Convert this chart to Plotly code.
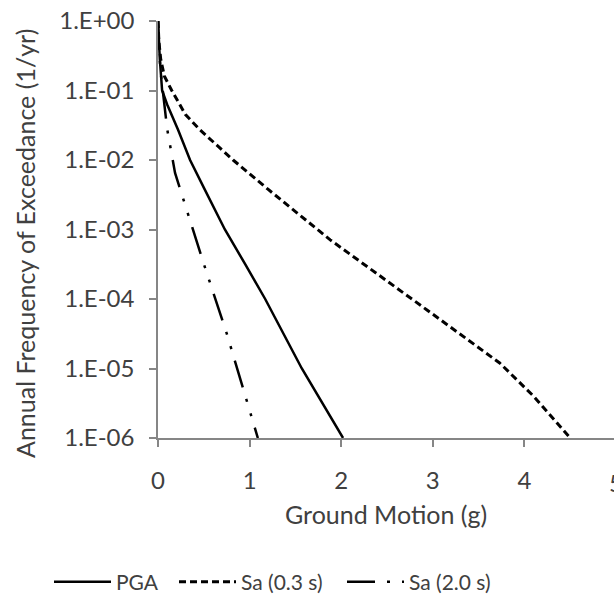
import plotly.graph_objects as go

# Ground motion (g) and annual frequency of exceedance (1/yr)
pga_x = [0, 0.01, 0.02, 0.045, 0.1, 0.22, 0.35, 0.5, 0.73, 0.95, 1.17, 1.57, 2.02]
pga_y = [1.0, 0.45, 0.28, 0.10, 0.063, 0.027, 0.010, 0.004, 0.001, 3.2e-4, 1.0e-4, 1.0e-5, 1.0e-6]

sa03_x = [0, 0.01, 0.03, 0.07, 0.15, 0.3, 0.46, 0.82, 1.2, 1.88, 2.94, 3.73, 4.1, 4.5]
sa03_y = [1.0, 0.50, 0.28, 0.16, 0.10, 0.045, 0.027, 0.010, 0.0038, 7.1e-4, 6.9e-5, 1.2e-5, 4.0e-6, 1.0e-6]

sa20_x = [0, 0.01, 0.03, 0.05, 0.1, 0.186, 0.5, 0.75, 1.09]
sa20_y = [1.0, 0.40, 0.18, 0.10, 0.028, 0.0065, 3.2e-4, 3.2e-5, 1.0e-6]

series_names = ["PGA", "Sa (0.3 s)", "Sa (2.0 s)"]

y_tickvals = [1, 1e-1, 1e-2, 1e-3, 1e-4, 1e-5, 1e-6]
y_ticktext = ["1.E+00", "1.E-01", "1.E-02", "1.E-03", "1.E-04", "1.E-05", "1.E-06"]
x_tickvals = [0, 1, 2, 3, 4]

FONT = "Lato"
TXT = "#404040"
AX = "#868686"
PLOT_W = 456.0
X_MAX = 4.978

fig = go.Figure()
fig.add_trace(go.Scatter(x=pga_x, y=pga_y, mode="lines", name=series_names[0],
                         legend="legend",
                         line=dict(color="black", width=2.5)))
fig.add_trace(go.Scatter(x=sa03_x, y=sa03_y, mode="lines", name=series_names[1],
                         legend="legend2",
                         line=dict(color="black", width=3, dash="7px,4px")))
fig.add_trace(go.Scatter(x=sa20_x, y=sa20_y, mode="lines", name=series_names[2],
                         legend="legend3",
                         line=dict(color="black", width=2.5,
                                   dash="28px,12px,3px,12px,3px,12px")))


def leg(xpx):
    return dict(orientation="h", x=xpx / 614.0, xanchor="left", xref="container",
                y=0.025, yanchor="middle", yref="container",
                font=dict(size=21, color=TXT), itemwidth=57,
                bgcolor="rgba(0,0,0,0)")


fig.update_layout(
    width=614, height=597,
    margin=dict(l=158, r=0, t=21, b=159),
    paper_bgcolor="white", plot_bgcolor="white",
    font=dict(family=FONT, size=24, color=TXT),
    showlegend=True,
    legend=leg(49), legend2=leg(174), legend3=leg(342),
    xaxis=dict(range=[0, X_MAX], tickvals=x_tickvals, showgrid=False, zeroline=False,
               showline=True, linecolor=AX, linewidth=1.5,
               ticks="outside", ticklen=7, tickcolor=AX, tickwidth=1.5,
               ticklabelstandoff=13, tickfont=dict(size=24, color=TXT)),
    yaxis=dict(type="log", range=[-6, 0], tickvals=y_tickvals, ticktext=y_ticktext,
               showgrid=False, zeroline=False,
               showline=True, linecolor=AX, linewidth=1.5,
               ticks="outside", ticklen=7, tickcolor=AX, tickwidth=1.5,
               ticklabelstandoff=10, tickfont=dict(size=24, color=TXT)),
    annotations=[
        dict(text="5", x=5 / X_MAX, xref="paper", y=0, yref="paper",
             xanchor="center", yanchor="middle", yshift=-44, showarrow=False,
             font=dict(size=24, color=TXT)),
        dict(text="Ground Motion (g)", x=0.5, xref="paper", y=0, yref="paper",
             xanchor="center", yanchor="middle", yshift=-76, showarrow=False,
             font=dict(size=25, color=TXT)),
        dict(text="Annual Frequency of Exceedance (1/yr)", x=(25 - 158) / PLOT_W,
             xref="paper", y=(438 - 244) / 417.0, yref="paper", textangle=-90,
             showarrow=False, xanchor="center", yanchor="middle",
             font=dict(size=25, color=TXT)),
    ],
)

fig.write_html("out.html")
